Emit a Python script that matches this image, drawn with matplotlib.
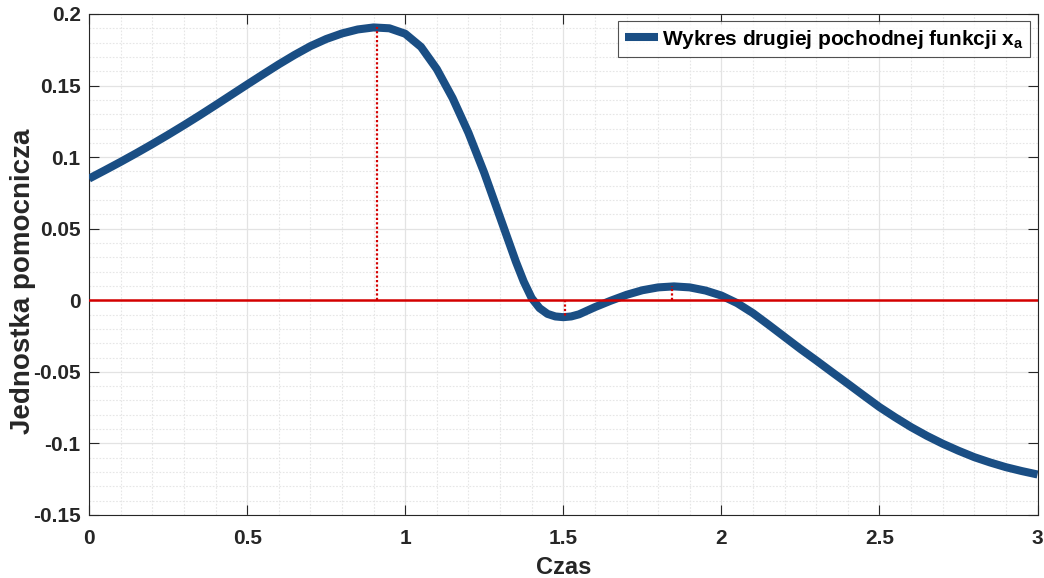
import numpy as np
import matplotlib
matplotlib.use("Agg")
import matplotlib.pyplot as plt
from matplotlib.ticker import MultipleLocator

plt.rcParams["font.family"] = ["Liberation Sans", "DejaVu Sans"]
plt.rcParams["font.weight"] = "bold"
plt.rcParams["mathtext.fontset"] = "custom"
plt.rcParams["mathtext.rm"] = "Liberation Sans:bold"
plt.rcParams["mathtext.bf"] = "Liberation Sans:bold"
plt.rcParams["mathtext.it"] = "Liberation Sans:bold"

# second derivative of x_a
t = [0.00, 0.05, 0.10, 0.15, 0.20, 0.25, 0.30, 0.35, 0.40, 0.45,
     0.50, 0.55, 0.60, 0.65, 0.70, 0.75, 0.80, 0.85, 0.90, 0.95,
     1.00, 1.05, 1.10, 1.15, 1.20, 1.25, 1.30, 1.35, 1.375, 1.40,
     1.425, 1.45, 1.475, 1.50, 1.525, 1.55, 1.60, 1.65, 1.70, 1.75,
     1.80, 1.85, 1.90, 1.95, 2.00, 2.05, 2.10, 2.15, 2.20, 2.25,
     2.30, 2.35, 2.40, 2.45, 2.50, 2.55, 2.60, 2.65, 2.70, 2.75,
     2.80, 2.85, 2.90, 2.95, 3.00]
d2x = [0.085, 0.0908, 0.0967, 0.1028, 0.1091, 0.1156, 0.1223, 0.1292, 0.1363, 0.1435,
       0.1507, 0.1578, 0.1648, 0.1714, 0.1775, 0.1825, 0.1864, 0.1892, 0.1906, 0.1900,
       0.1862, 0.1770, 0.1615, 0.1412, 0.1170, 0.0890, 0.0580, 0.0270, 0.0130, 0.0015,
       -0.0055, -0.0095, -0.0113, -0.0118, -0.0113, -0.0098, -0.0048, -0.0003, 0.0038, 0.0070,
       0.0090, 0.0097, 0.0090, 0.0068, 0.0033, -0.0020, -0.0090, -0.0172, -0.0256, -0.0340,
       -0.0420, -0.0502, -0.0583, -0.0665, -0.0746, -0.0818, -0.0886, -0.0947, -0.1002, -0.1051,
       -0.1096, -0.1133, -0.1166, -0.1193, -0.1217]

# extrema marked with dotted lines
ext_t = [0.91, 1.506, 1.844]
ext_v = [0.1906, -0.0118, 0.0097]

legend_label = r"Wykres drugiej pochodnej funkcji x$_{\mathrm{a}}$"

fig = plt.figure(figsize=(10.44, 5.78), dpi=100)
ax = fig.add_axes([0.0853, 0.109, 0.9085, 0.8668])

ax.plot(t, d2x, color="#1a4e84", lw=5.8, label=legend_label, zorder=3,
        solid_capstyle="butt", solid_joinstyle="round")
ax.axhline(0, color="#d40000", lw=1.8, zorder=4)
for xe, ve in zip(ext_t, ext_v):
    ax.plot([xe, xe], [0, ve], color="#d40000", lw=1.6, ls=(0, (1, 1)), zorder=4)

ax.set_xlim(0, 3)
ax.set_ylim(-0.15, 0.2)
ax.xaxis.set_minor_locator(MultipleLocator(0.1))
ax.yaxis.set_minor_locator(MultipleLocator(0.01))
ax.set_xticks([0, 0.5, 1, 1.5, 2, 2.5, 3])
ax.set_xticklabels(["0", "0.5", "1", "1.5", "2", "2.5", "3"])
ax.set_yticks([-0.15, -0.1, -0.05, 0, 0.05, 0.1, 0.15, 0.2])
ax.set_yticklabels(["-0.15", "-0.1", "-0.05", "0", "0.05", "0.1", "0.15", "0.2"])

ax.grid(True, which="major", color="#e3e3e3", lw=0.9, ls="-")
ax.grid(True, which="minor", color="#e6e6e6", lw=0.8, ls=(0, (1.5, 1.5)))
ax.set_axisbelow(True)

ax.tick_params(which="major", direction="in", length=7, width=0.8,
               top=True, right=True, labelsize=15, colors="#262626")
ax.tick_params(axis="x", which="major", pad=10)
ax.tick_params(axis="y", which="major", pad=6)
ax.tick_params(which="minor", length=0, top=True, right=True)
for lab in ax.get_xticklabels() + ax.get_yticklabels():
    lab.set_fontweight("bold")
for sp in ax.spines.values():
    sp.set_color("#262626")
    sp.set_linewidth(0.8)

ax.set_xlabel("Czas", fontsize=17, fontweight="bold", color="#262626", labelpad=6)
ax.set_ylabel("Jednostka pomocnicza", fontsize=20, fontweight="bold",
              color="#262626")
ax.yaxis.set_label_coords(-0.056, 0.467)

leg = ax.legend(loc="upper right", frameon=True, fancybox=False,
                handlelength=1.6, handletextpad=0.2, borderpad=0.3,
                borderaxespad=0.35, prop={"weight": "bold", "size": 15})
leg.get_frame().set_edgecolor("#262626")
leg.get_frame().set_linewidth(0.8)

fig.savefig("out.png", dpi=100)
